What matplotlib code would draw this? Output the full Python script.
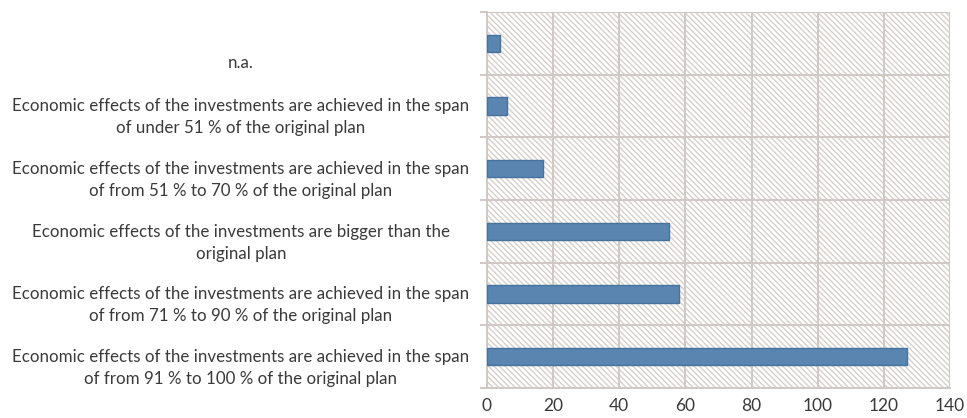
import numpy as np
import matplotlib.pyplot as plt
import matplotlib.transforms as mtransforms
from matplotlib.patches import Rectangle

# Categories, top to bottom
categories = [
    "n.a.",
    "Economic effects of the investments are achieved in the span\nof under 51 % of the original plan",
    "Economic effects of the investments are achieved in the span\nof from 51 % to 70 % of the original plan",
    "Economic effects of the investments are bigger than the\noriginal plan",
    "Economic effects of the investments are achieved in the span\nof from 71 % to 90 % of the original plan",
    "Economic effects of the investments are achieved in the span\nof from 91 % to 100 % of the original plan",
]
counts = [4, 6, 17, 55, 58, 127]
x_ticks = [0, 20, 40, 60, 80, 100, 120, 140]

grid_col = '#d0c8c4'
hatch_col = '#d6cfcb'
text_col = '#3a3a3a'

plt.rcParams['font.family'] = ['Lato', 'DejaVu Sans']
plt.rcParams['hatch.linewidth'] = 1.0

fig = plt.figure(figsize=(9.67, 4.18), dpi=100)
ax = fig.add_axes([0.5036, 0.0718, 0.4788, 0.8995])

n = len(categories)
pos = np.arange(n)

# hatched plot area
ax.add_patch(Rectangle((0, 0), 1, 1, transform=ax.transAxes, fill=False,
                       hatch='\\\\\\\\\\\\', edgecolor=hatch_col, linewidth=0, zorder=0))

ax.barh(pos, counts, height=0.28, color='#5a85b0', edgecolor='#46729e',
        linewidth=1, zorder=3)

ax.set_xlim(0, 140)
ax.set_ylim(n - 0.5, -0.5)
ax.set_xticks(x_ticks)
ax.set_xticklabels([str(v) for v in x_ticks])
ax.set_yticks(pos)
ax.set_yticklabels(categories, ha='center', linespacing=1.45)
ax.set_yticks(np.arange(n + 1) - 0.5, minor=True)

ax.tick_params(axis='x', length=0, pad=7, labelsize=12.5, labelcolor=text_col)
ax.tick_params(axis='y', which='major', length=0, labelsize=12.2,
               labelcolor=text_col, pad=0)
ax.tick_params(axis='y', which='minor', length=5, color=grid_col, width=1.4)

ax.grid(axis='x', color=grid_col, linewidth=1.4, zorder=1)
ax.grid(axis='y', which='minor', color=grid_col, linewidth=1.4, zorder=1)
ax.set_axisbelow(True)

for side in ['top', 'right']:
    ax.spines[side].set_visible(False)
for side in ['left', 'bottom']:
    ax.spines[side].set_color(grid_col)
    ax.spines[side].set_linewidth(1.4)

# center the label blocks under the widest line, nudged down a bit
fig.canvas.draw()
for i, lab in enumerate(ax.get_yticklabels()):
    dy = -18 if i == 0 else -7
    off = mtransforms.ScaledTranslation(-246 / 100, dy / 100, fig.dpi_scale_trans)
    lab.set_transform(lab.get_transform() + off)

fig.savefig('out.png', dpi=100)
